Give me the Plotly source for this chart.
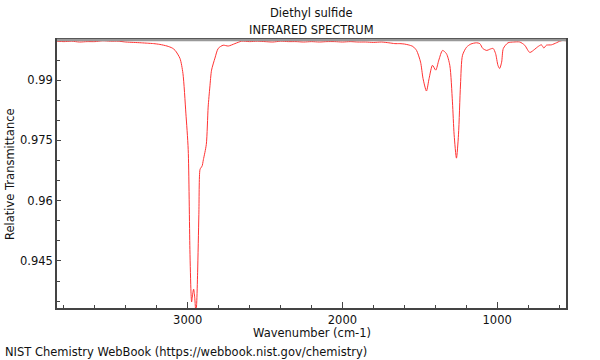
import plotly.graph_objects as go

# Wavenumber (cm-1) and relative transmittance
wavenumber = [
    3845, 3800, 3750, 3700, 3650, 3600, 3550, 3500, 3450, 3400, 3350, 3300,
    3260, 3220, 3180, 3134, 3100, 3081, 3050, 3031, 3012, 2997, 2986, 2979,
    2975, 2968, 2962, 2955, 2947, 2942, 2936, 2928, 2921, 2914, 2908, 2899,
    2880, 2868, 2857, 2846, 2824, 2803, 2771, 2738, 2695, 2652, 2600, 2550,
    2500, 2450, 2400, 2350, 2300, 2250, 2200, 2150, 2100, 2050, 2000, 1950,
    1900, 1850, 1800, 1747, 1700, 1661, 1629, 1600, 1575, 1545, 1521, 1495,
    1479, 1457, 1440, 1418, 1397, 1377, 1353, 1328, 1306, 1289, 1278, 1263,
    1250, 1237, 1224, 1198, 1170, 1134, 1112, 1093, 1067, 1048, 1026, 1010,
    995, 984, 971, 960, 930, 893, 854, 822, 789, 757, 738, 714, 698, 682,
    649, 617, 596, 574, 557,
]
transmittance = [
    0.9997, 0.9996, 0.9997, 0.9995, 0.9996, 0.9996, 0.9998, 0.9997, 0.9997, 0.9995, 0.9994, 0.9993,
    0.9992, 0.9991, 0.9989, 0.9985, 0.9980, 0.9974, 0.9954, 0.9917, 0.9818, 0.9727, 0.9479, 0.9373,
    0.9348, 0.9368, 0.9380, 0.9360, 0.9320, 0.9345, 0.9422, 0.9566, 0.9677, 0.9683, 0.9685, 0.9702,
    0.9740, 0.9833, 0.9883, 0.9925, 0.9955, 0.9979, 0.9987, 0.9985, 0.9991, 0.9997, 0.9996, 0.9997,
    0.9996, 0.9995, 0.9997, 0.9996, 0.9996, 0.9995, 0.9996, 0.9995, 0.9996, 0.9996, 0.9995, 0.9996,
    0.9995, 0.9995, 0.9994, 0.9995, 0.9993, 0.9991, 0.9991, 0.9990, 0.9988, 0.9984, 0.9974, 0.9945,
    0.9904, 0.9873, 0.9904, 0.9937, 0.9925, 0.9950, 0.9974, 0.9966, 0.9937, 0.9846, 0.9764, 0.9706,
    0.9764, 0.9888, 0.9962, 0.9982, 0.9990, 0.9993, 0.9991, 0.9979, 0.9974, 0.9977, 0.9979, 0.9966,
    0.9937, 0.9929, 0.9945, 0.9979, 0.9993, 0.9995, 0.9995, 0.9987, 0.9969, 0.9977, 0.9983, 0.9988, 0.9980, 0.9987,
    0.9988, 0.9993, 0.9997, 0.9999, 0.9998,
]

x_major_ticks = [3000, 2000, 1000]
y_major_ticks = [0.99, 0.975, 0.96, 0.945]
y_tick_labels = ["0.99", "0.975", "0.96", "0.945"]
y_minor_ticks = [0.995, 0.985, 0.98, 0.97, 0.965, 0.955, 0.95, 0.94, 0.935]

FONT = "DejaVu Sans"
FS = 11.5
TXT = "#111"

fig = go.Figure()
fig.add_trace(go.Scatter(
    x=wavenumber, y=transmittance, mode="lines",
    line=dict(color="#ff3333", width=1, shape="spline", smoothing=0.7),
    hoverinfo="skip", showlegend=False,
))

fig.update_layout(
    width=600, height=360,
    margin=dict(l=57, r=34, t=40, b=52),
    paper_bgcolor="white", plot_bgcolor="white",
    font=dict(family=FONT, size=FS, color=TXT),
    showlegend=False,
)

fig.update_xaxes(
    range=[3845, 555], showgrid=False, zeroline=False,
    showline=True, linecolor="#444", linewidth=1.5, mirror=True,
    tickmode="array", tickvals=x_major_ticks, ticktext=[str(v) for v in x_major_ticks],
    ticks="inside", ticklen=6, tickcolor="#444", tickwidth=1,
    minor=dict(dtick=200, tick0=0, ticks="inside", ticklen=3, tickcolor="#444"),
    tickfont=dict(family=FONT, size=FS, color=TXT),
)
fig.update_yaxes(
    range=[0.9333, 1.0], showgrid=False, zeroline=False,
    showline=True, linecolor="#444", linewidth=1.5, mirror=True,
    tickmode="array", tickvals=y_major_ticks, ticktext=y_tick_labels,
    ticks="inside", ticklen=4, tickcolor="#444", tickwidth=1,
    minor=dict(tickmode="array", tickvals=y_minor_ticks, ticks="inside", ticklen=3, tickcolor="#444"),
    tickfont=dict(family=FONT, size=FS, color=TXT),
)

# top border drawn lighter and thicker, as in the reference
fig.add_shape(type="line", xref="paper", yref="paper", x0=0, x1=1, y0=1, y1=1,
              line=dict(color="#999", width=2.5))

ann = [
    dict(text="Diethyl sulfide", x=0.5, y=(308 - 13) / 268),
    dict(text="INFRARED SPECTRUM", x=0.5, y=(308 - 30) / 268),
    dict(text="Wavenumber (cm-1)", x=0.5, y=(308 - 333) / 268),
]
for a in ann:
    fig.add_annotation(xref="paper", yref="paper", showarrow=False,
                       xanchor="center", yanchor="middle",
                       font=dict(family=FONT, size=FS, color=TXT), **a)
fig.add_annotation(text="Relative Transmittance", xref="paper", yref="paper",
                   x=(10 - 57) / 509, y=0.5, textangle=-90, showarrow=False,
                   xanchor="center", yanchor="middle",
                   font=dict(family=FONT, size=FS, color=TXT))
fig.add_annotation(text="NIST Chemistry WebBook (https://webbook.nist.gov/chemistry)",
                   xref="paper", yref="paper", x=(3 - 57) / 509, y=(308 - 352) / 268,
                   showarrow=False, xanchor="left", yanchor="middle",
                   font=dict(family=FONT, size=FS, color=TXT))

fig.write_html(
    "out.html",
    config={"displayModeBar": False},
    post_script="document.body.style.margin='0';document.body.style.padding='0';",
)
